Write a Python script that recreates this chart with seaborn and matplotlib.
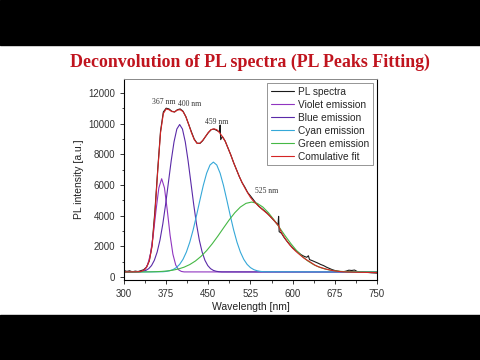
import matplotlib
matplotlib.use("Agg")
import matplotlib.pyplot as plt
from matplotlib.patches import Rectangle
from matplotlib.ticker import MultipleLocator
import seaborn as sns

# measured PL spectrum (wavelength nm / intensity a.u.)
pl_nm = [300, 305, 310, 315, 320, 325, 330, 335, 340, 345, 350, 355, 360, 365, 370,
         375, 380, 385, 390, 395, 400, 405, 410, 415, 420, 425, 430, 435, 440, 445,
         450, 455, 460, 465, 470, 471, 472, 475, 480, 485, 490, 495, 500, 505, 510,
         515, 520, 525, 530, 535, 540, 545, 550, 555, 560, 565, 570, 574, 575, 576,
         580, 585, 590, 595, 600, 605, 610, 615, 620, 625, 628, 630, 635, 640, 645,
         650, 655, 660, 665, 670, 675, 680, 685, 690, 695, 700, 705, 710, 715, 720,
         725, 730, 735, 740, 745, 750]
pl_int = [420, 360, 400, 330, 380, 350, 410, 470, 640, 1050, 2100, 4300, 7000, 9500, 10750,
          11000, 10950, 10800, 10750, 10900, 10950, 10800, 10450, 9950, 9450, 8980, 8720, 8700, 8880, 9150,
          9400, 9600, 9640, 9550, 9450, 9900, 8950, 9150, 8850, 8400, 7950, 7450, 7000, 6550, 6150,
          5850, 5500, 5280, 5040, 4800, 4600, 4450, 4300, 4150, 3950, 3750, 3550, 3400, 3950, 2950,
          2850, 2560, 2320, 2100, 1900, 1750, 1600, 1450, 1350, 1280, 1380, 1130, 1060, 980, 900,
          810, 740, 640, 560, 480, 420, 380, 350, 340, 380, 440, 420, 450, 350, 320,
          330, 300, 290, 270, 260, 250]

# cumulative fit
fit_nm = list(range(300, 755, 5))
fit_int = [330, 330, 330, 331, 333, 340, 360, 430, 620, 1050, 2000, 4100, 6900, 9400, 10650,
           10950, 10900, 10780, 10760, 10880, 10900, 10780, 10450, 9950, 9400, 8950, 8700, 8720, 8900, 9150,
           9420, 9600, 9650, 9600, 9400, 9150, 8850, 8400, 7950, 7450, 7000, 6550, 6150, 5800, 5480,
           5180, 4950, 4780, 4600, 4430, 4280, 4120, 3950, 3760, 3550, 3330, 2900, 2600, 2330, 2080,
           1870, 1690, 1530, 1380, 1230, 1110, 1000, 880, 760, 680, 615, 560, 505, 465, 425,
           395, 370, 345, 335, 325, 320, 315, 310, 305, 300, 300, 295, 290, 290, 285, 285]

# deconvoluted components
violet_nm = [300, 327, 332, 337, 342, 347, 352, 357, 362, 367, 372, 377, 382, 387, 392, 397, 402, 407, 750]
violet_int = [320, 328, 359, 468, 780, 1484, 2720, 4345, 5804, 6400, 5804, 4345, 2720, 1484, 780, 468, 359, 328, 320]

blue_nm = [300] + list(range(324, 479, 5)) + [750]
blue_int = [320, 328, 341, 369, 427, 539, 742, 1085, 1621, 2400, 3442, 4722, 6152, 7577, 8805, 9639,
            9935, 9639, 8805, 7577, 6152, 4722, 3442, 2400, 1621, 1085, 742, 539, 427, 369, 341, 328, 320]

cyan_nm = [300] + list(range(369, 550, 6)) + [750]
cyan_int = [320, 338, 359, 400, 475, 606, 819, 1149, 1624, 2264, 3067, 4003, 4999, 5959, 6761, 7297,
            7485, 7297, 6761, 5959, 4999, 4003, 3067, 2264, 1624, 1149, 819, 606, 475, 400, 359, 338, 320]

green_nm = [300] + list(range(347, 708, 10)) + [750]
green_int = [320, 331, 342, 360, 391, 442, 520, 638, 807, 1038, 1340, 1716, 2163, 2663, 3192, 3712, 4181,
             4555, 4797, 4880, 4797, 4555, 4181, 3712, 3192, 2663, 2163, 1716, 1340, 1038, 807, 638,
             520, 442, 391, 360, 342, 331, 320]

sns.set_theme(style="ticks")
plt.rcParams['font.family'] = ['Liberation Sans', 'DejaVu Sans']

fig = plt.figure(figsize=(4.8, 3.6), dpi=100)
fig.patch.set_facecolor('white')
ax = fig.add_axes([0.2583, 0.2222, 0.5271, 0.5583])

series = [
    (pl_nm, pl_int, '#1a1a1a', 'PL spectra'),
    (violet_nm, violet_int, '#9035c0', 'Violet emission'),
    (blue_nm, blue_int, '#5a2aa8', 'Blue emission'),
    (cyan_nm, cyan_int, '#35a8d8', 'Cyan emission'),
    (green_nm, green_int, '#45b845', 'Green emission'),
    (fit_nm, fit_int, '#d42424', 'Comulative fit'),
]
for xs, ys, col, lab in series:
    sns.lineplot(x=xs, y=ys, color=col, lw=0.8, label=lab, ax=ax, sort=False, estimator=None)

ax.set_xlim(300, 750)
ax.set_ylim(-200, 12900)
ax.xaxis.set_major_locator(MultipleLocator(75))
ax.xaxis.set_minor_locator(MultipleLocator(37.5))
ax.yaxis.set_major_locator(MultipleLocator(2000))
ax.yaxis.set_minor_locator(MultipleLocator(1000))
ax.tick_params(which='major', direction='out', length=3, width=0.7, labelsize=7, colors='#333333')
ax.tick_params(which='minor', direction='out', length=1.8, width=0.6)
for s in ['left', 'bottom', 'right']:
    ax.spines[s].set_color('black')
    ax.spines[s].set_linewidth(0.8)
ax.spines['top'].set_color('#888888')
ax.spines['top'].set_linewidth(0.7)

ax.set_xlabel('Wavelength [nm]', fontsize=7.5, color='#222222', labelpad=2)
ax.set_ylabel('PL intensity [a.u.]', fontsize=7.5, color='#222222', labelpad=3)

peak_notes = [('367 nm', 371, 11400), ('400 nm', 416, 11250), ('459 nm', 464, 10080), ('525 nm', 553, 5600)]
for txt, px, py in peak_notes:
    ax.text(px, py, txt, fontsize=5.5, family=['Liberation Serif'], color='#333333',
            ha='center', va='center')

leg = ax.legend(loc='upper right', fontsize=7.3, frameon=True, fancybox=False,
                handlelength=2.3, handletextpad=0.4, labelspacing=0.3,
                borderpad=0.35, borderaxespad=0.4)
leg.get_frame().set_edgecolor('#666666')
leg.get_frame().set_linewidth(0.6)

fig.text(0.521, 0.826, 'Deconvolution of PL spectra (PL Peaks Fitting)',
         family=['Liberation Serif'], fontweight='bold', fontsize=12.9,
         color='#c0141e', ha='center', va='center')

# letterbox bars
fig.add_artist(Rectangle((0, 0.875), 1, 0.125, transform=fig.transFigure, color='black', zorder=10))
fig.add_artist(Rectangle((0, 0), 1, 0.125, transform=fig.transFigure, color='black', zorder=10))

fig.savefig('out.png', dpi=100, facecolor='white')
